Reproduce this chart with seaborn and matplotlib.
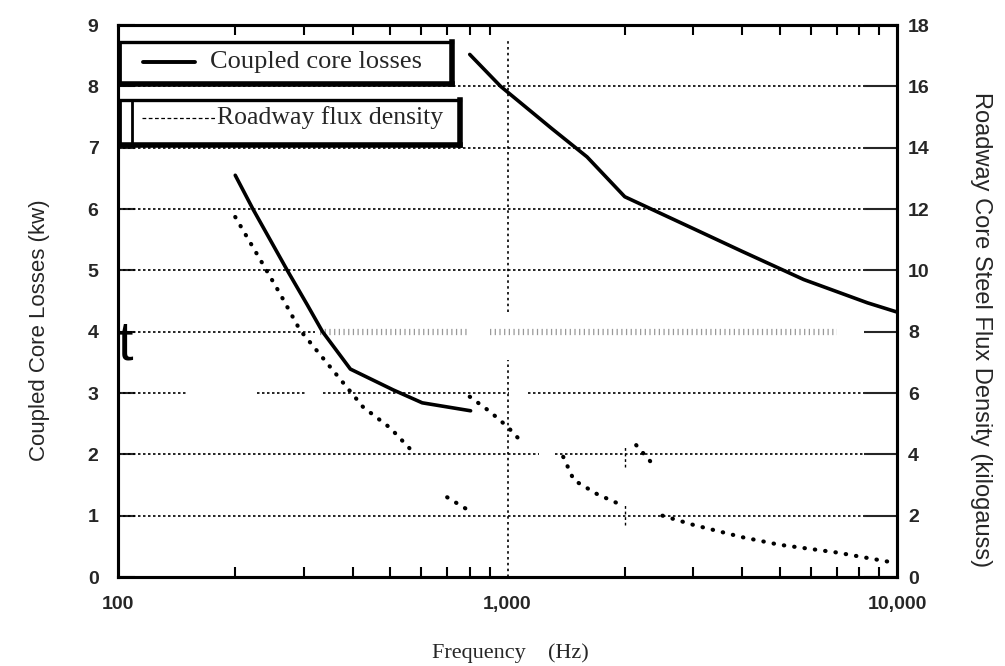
import numpy as np
import pandas as pd
import matplotlib
matplotlib.use("Agg")
import matplotlib.pyplot as plt
import seaborn as sns
from matplotlib.patches import Rectangle
from matplotlib.lines import Line2D
from matplotlib.ticker import FixedLocator, NullFormatter

# ---------------- data ----------------
# Coupled core losses (kW, left axis) - lower branch
loss_low_freq = [200, 222, 272, 306, 335, 395, 509, 604, 804]
loss_low_kw = [6.55, 6.0, 5.0, 4.44, 4.0, 3.39, 3.05, 2.84, 2.71]
# Coupled core losses (kW, left axis) - upper branch
loss_high_freq = [800, 960, 1300, 1600, 2000, 3000, 4000, 5760, 8400, 10000]
loss_high_kw = [8.52, 8.0, 7.31, 6.85, 6.2, 5.68, 5.31, 4.85, 4.47, 4.32]

# Roadway flux density (kilogauss, right axis) - fragments of the scanned dotted curve
flux_a_freq = [200, 236, 260, 293, 350, 426, 500, 560]
flux_a_kg = [11.74, 10.18, 9.26, 8.06, 6.86, 5.54, 4.86, 4.2]
flux_b_freq = [700, 800]
flux_b_kg = [2.6, 2.15]
flux_c_freq = [800, 900, 1000, 1070]
flux_c_kg = [5.88, 5.4, 4.9, 4.5]
flux_d_freq = [1390, 1480, 1700, 2000]
flux_d_kg = [3.92, 3.16, 2.7, 2.3]
flux_e_freq = [2140, 2390]
flux_e_kg = [4.3, 3.6]
flux_f_freq = [2500, 3000, 4000, 5000, 7000, 9500]
flux_f_kg = [2.0, 1.7, 1.3, 1.05, 0.8, 0.5]

x_ticks = [100, 1000, 10000]
x_ticklabels = ["100", "1,000", "10,000"]
left_ticks = list(range(0, 10))
right_ticks = list(range(0, 20, 2))

legend_labels = ["Coupled core losses", "Roadway flux density"]
x_label = "Frequency\u3000(Hz)"
left_label = "Coupled Core Losses (kw)"
right_label = "Roadway Core Steel Flux Density (kilogauss)"

# ---------------- figure ----------------
sns.set_theme(style="white")
plt.rcParams["font.family"] = ["Liberation Sans", "DejaVu Sans"]

W, H = 1005, 666
fig = plt.figure(figsize=(W / 100, H / 100), dpi=100)
X0, X1, YT, YB = 118, 897, 25, 577
ax = fig.add_axes([X0 / W, (H - YB) / H, (X1 - X0) / W, (YB - YT) / H])
ax2 = ax.twinx()

ax.set_xscale("log")
ax.set_xlim(100, 10000)
ax.set_ylim(0, 9)
ax2.set_ylim(0, 18)

def px(x, y):
    return ((x - X0) / (X1 - X0), (YB - y) / (YB - YT))

GRID = dict(color="black", lw=1.2, ls=(0, (1.5, 1.5)), zorder=1)
# gridlines (dotted, with the gaps of the scan)
for v in (1, 5, 6, 7, 8):
    ax.axhline(v, **GRID)
for a_, b_ in [(100, 151), (228, 303), (336, 1006), (1130, 10000)]:
    ax.plot([a_, b_], [3, 3], **GRID)
for a_, b_ in [(100, 1203), (1328, 10000)]:
    ax.plot([a_, b_], [2, 2], **GRID)
ax.plot([100, 320], [4, 4], **GRID)
ax.plot([330, 800], [4, 4], color="#999999", lw=4.5, ls=(0, (0.2, 0.55)), zorder=1)
ax.plot([900, 7000], [4, 4], color="#999999", lw=4.5, ls=(0, (0.2, 0.55)), zorder=1)
ax.plot([1000, 1000], [4.32, 8.75], color="black", lw=1.2, ls=(0, (1.5, 2)), zorder=1)
ax.plot([1000, 1000], [0.0, 3.54], color="black", lw=1.2, ls=(0, (1.5, 2)), zorder=1)
ax.plot([2000, 2000], [1.8, 2.15], color="black", lw=1.0, ls=(0, (2, 2)), zorder=1)
ax.plot([2000, 2000], [0.85, 1.2], color="black", lw=1.0, ls=(0, (2, 2)), zorder=1)

# solid loss curves
df_low = pd.DataFrame({"f": loss_low_freq, "v": loss_low_kw})
df_high = pd.DataFrame({"f": loss_high_freq, "v": loss_high_kw})
for d in (df_low, df_high):
    sns.lineplot(data=d, x="f", y="v", ax=ax, color="black", lw=2.6,
                 sort=False, estimator=None, zorder=3)

# dotted flux curves
for fq, kg in [(flux_a_freq, flux_a_kg), (flux_b_freq, flux_b_kg), (flux_c_freq, flux_c_kg),
               (flux_d_freq, flux_d_kg), (flux_e_freq, flux_e_kg), (flux_f_freq, flux_f_kg)]:
    d = pd.DataFrame({"f": fq, "v": kg})
    sns.lineplot(data=d, x="f", y="v", ax=ax2, color="black", lw=3.0,
                 sort=False, estimator=None, zorder=3)
    l = ax2.lines[-1]
    l.set_linestyle((0, (0.1, 2.4)))
    l.set_dash_capstyle("round")

# axes styling
for a in (ax, ax2):
    for s in a.spines.values():
        s.set_linewidth(2.2)
        s.set_color("black")
    a.set_xlabel("")
    a.set_ylabel("")

ax.set_xticks(x_ticks)
ax.set_xticklabels(x_ticklabels, fontsize=14, fontweight="bold")
ax.xaxis.set_minor_locator(FixedLocator([200, 300, 400, 500, 600, 700, 800, 900,
                                         2000, 3000, 4000, 5000, 6000, 7000, 8000, 9000]))
ax.xaxis.set_minor_formatter(NullFormatter())
ax.tick_params(axis="x", which="major", direction="in", length=0, pad=14)
ax.tick_params(axis="x", which="minor", direction="in", length=7, width=1.5,
               top=True, bottom=True, color="black")
ax.set_yticks(left_ticks)
ax.set_yticklabels([str(t) for t in left_ticks], fontsize=14, fontweight="bold")
ax.tick_params(axis="y", which="major", direction="in", length=12, width=1.5, pad=14)
ax2.set_yticks(right_ticks)
ax2.set_yticklabels([str(t) for t in right_ticks], fontsize=14, fontweight="bold")
ax2.tick_params(axis="y", which="major", direction="in", length=24, width=1.5, pad=8)

fig.text(40 / W, 1 - 330 / H, left_label, rotation=90, ha="center", va="center",
         fontsize=16, family=["Liberation Sans", "DejaVu Sans"])
fig.text(981 / W, 1 - 330 / H, right_label, rotation=-90, ha="center", va="center",
         fontsize=17, family=["Liberation Sans", "DejaVu Sans"])
fig.text(510 / W, 1 - 653 / H, x_label, ha="center", va="center", fontsize=16,
         family=["Liberation Serif", "Noto Sans CJK JP", "DejaVu Serif"])

# hand-drawn legend boxes
def box(x0, y0, x1, y1):
    ax.add_patch(Rectangle(px(x0, y1), (x1 - x0) / (X1 - X0), (y1 - y0) / (YB - YT),
                           transform=ax.transAxes, facecolor="white", edgecolor="none",
                           zorder=4, clip_on=False))
    for (xa, ya, xb, yb, w) in [(x0, y0, x1, y0, 2.4), (x0, y0, x0, y1, 2.0),
                                (x0, y1, x1, y1, 4.0), (x1, y0, x1, y1, 4.0)]:
        pa, pb = px(xa, ya), px(xb, yb)
        ax.add_line(Line2D([pa[0], pb[0]], [pa[1], pb[1]], transform=ax.transAxes,
                           color="black", lw=w, zorder=5, clip_on=False,
                           solid_capstyle="projecting"))

box(120, 42, 452, 84)
box(120, 100, 460, 145)
p1, p2 = px(132, 100), px(132, 145)
ax.add_line(Line2D([p1[0], p2[0]], [p1[1], p2[1]], transform=ax.transAxes,
                   color="black", lw=2.0, zorder=5))
a, b = px(143, 62), px(195, 62)
ax.add_line(Line2D([a[0], b[0]], [a[1], b[1]], transform=ax.transAxes,
                   color="black", lw=2.8, zorder=6))
a, b = px(142, 118), px(215, 118)
ax.add_line(Line2D([a[0], b[0]], [a[1], b[1]], transform=ax.transAxes,
                   color="black", lw=0.9, ls=(0, (3, 2)), zorder=6))
t = px(210, 62)
ax.text(t[0], t[1], legend_labels[0], transform=ax.transAxes, ha="left", va="center",
        fontsize=19, zorder=6, family=["Liberation Serif", "DejaVu Serif"])
t = px(217, 118)
ax.text(t[0], t[1], legend_labels[1], transform=ax.transAxes, ha="left", va="center",
        fontsize=18.5, zorder=6, family=["Liberation Serif", "DejaVu Serif"])

# scan artefact letter near the left axis
t = px(125, 345)
ax.text(t[0], t[1], "t", transform=ax.transAxes, ha="center", va="center", fontsize=40,
        color="black", zorder=6, family=["Liberation Sans", "DejaVu Sans"])

fig.savefig("out.png", dpi=100)
